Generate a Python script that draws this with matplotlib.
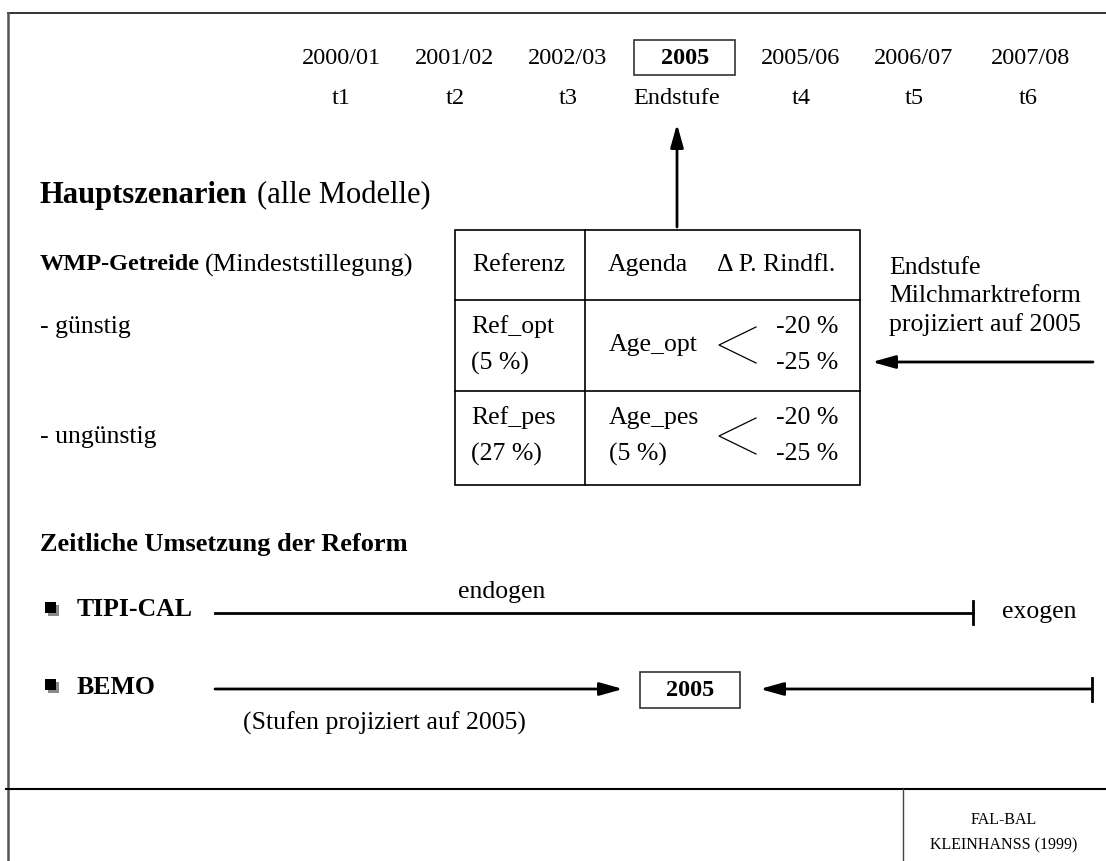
"""
Szenarien-Schema: Hauptszenarien und zeitliche Umsetzung der Reform.
"""

import matplotlib

matplotlib.use("Agg")
import matplotlib.pyplot as plt
from matplotlib.patches import Rectangle

plt.rcParams["font.family"] = ["Liberation Serif", "DejaVu Serif"]

# timeline labels
years = ["2000/01", "2001/02", "2002/03", "2005", "2005/06", "2006/07", "2007/08"]
stages = ["t1", "t2", "t3", "Endstufe", "t4", "t5", "t6"]
year_x = [341, 455, 568, 685, 801, 914, 1030]
stage_x = [341, 455, 568, 677, 801, 914, 1028]

# scenario table
table_header = ["Referenz", "Agenda", "\u0394 P. Rindfl."]
ref_rows = [["Ref_opt", "(5 %)"], ["Ref_pes", "(27 %)"]]
age_rows = [["Age_opt"], ["Age_pes", "(5 %)"]]
price_cuts = ["-20 %", "-25 %"]
scenarios = ["- günstig", "- ungünstig"]
models = ["TIPI-CAL", "BEMO"]
note = ["Endstufe", "Milchmarktreform", "projiziert auf 2005"]

W, H = 1106, 861
fig = plt.figure(figsize=(W / 100, H / 100), dpi=100)
ax = fig.add_axes([0, 0, 1, 1])
ax.set_xlim(0, W)
ax.set_ylim(H, 0)
ax.axis("off")

FS = 18.5      # body text
FT = 17.5      # timeline
dark = "#222222"
# mutation_scale is in points: 14 pt ~ 19 px long head, ~11 px wide
arrow = dict(arrowstyle="-|>,head_length=1.0,head_width=0.28", color="black",
             lw=2, mutation_scale=14, shrinkA=0, shrinkB=0)

# frame
ax.plot([8, W], [13, 13], color=dark, lw=1.3)
ax.plot([8, 8], [13, H], color="#555555", lw=1.8)
ax.plot([6, W], [789, 789], color="black", lw=1.5)
ax.plot([903, 903], [789, H], color="#444444", lw=1.0)

# timeline
for x, lab in zip(year_x, years):
    bold = lab == "2005"
    ax.text(x, 58, lab, fontsize=FT, ha="center", va="center",
            fontweight="bold" if bold else "normal")
for x, lab in zip(stage_x, stages):
    ax.text(x, 99, lab, fontsize=FT, ha="center", va="center")
ax.add_patch(Rectangle((634, 40), 101, 35, fill=False, ec="#333333", lw=1.2))

ax.annotate("", xy=(677, 124), xytext=(677, 227), arrowprops=arrow)

# main scenarios
ax.text(40, 196, "Hauptszenarien", fontsize=22, fontweight="bold",
        ha="left", va="center")
ax.text(257, 196, "(alle Modelle)", fontsize=22, ha="left", va="center")
ax.text(40, 265, "WMP-Getreide", fontsize=17.5, fontweight="bold",
        ha="left", va="center")
ax.text(205, 265, "(Mindeststillegung)", fontsize=19, ha="left", va="center")
ax.text(40, 327, scenarios[0], fontsize=FS, ha="left", va="center")
ax.text(40, 437, scenarios[1], fontsize=FS, ha="left", va="center")

# table
ax.add_patch(Rectangle((455, 230), 405, 255, fill=False, ec="black", lw=1.2))
ax.plot([585, 585], [230, 485], color="black", lw=1.2)
ax.plot([455, 860], [300, 300], color="black", lw=1.2)
ax.plot([455, 860], [391, 391], color="black", lw=1.2)

ax.text(472, 265, table_header[0], fontsize=FS, va="center")
ax.text(608, 265, table_header[1], fontsize=FS, va="center")
ax.text(717, 265, table_header[2], fontsize=FS, va="center")

row_top = [327, 418]
for r, (ref, age) in enumerate(zip(ref_rows, age_rows)):
    y0 = row_top[r]
    ax.text(471, y0, ref[0], fontsize=FS, va="center")
    ax.text(471, y0 + 36, ref[1], fontsize=FS, va="center")
    if len(age) == 1:
        ax.text(609, y0 + 18, age[0], fontsize=FS, va="center")
    else:
        ax.text(609, y0, age[0], fontsize=FS, va="center")
        ax.text(609, y0 + 36, age[1], fontsize=FS, va="center")
    ym = y0 + 18
    ax.plot([756, 719, 756], [ym - 18, ym, ym + 18], color="black", lw=0.9)
    ax.text(838, ym - 18, price_cuts[0], fontsize=FS, ha="right", va="center")
    ax.text(838, ym + 18, price_cuts[1], fontsize=FS, ha="right", va="center")

# right note
for k, line in enumerate(note):
    ax.text(889, 268 + 28.5 * k, line, fontsize=FS, ha="left", va="center")
ax.annotate("", xy=(872, 362), xytext=(1093, 362), arrowprops=arrow)

# timing of reform
ax.text(40, 545, "Zeitliche Umsetzung der Reform", fontsize=19,
        fontweight="bold", ha="left", va="center")

bullet_y = [608, 685]
for y, name in zip(bullet_y, models):
    ax.add_patch(Rectangle((48, y - 3), 11, 11, color="#8a8a8a", lw=0))
    ax.add_patch(Rectangle((45, y - 6), 11, 11, color="black", lw=0))
    ax.text(77, y + 2, name, fontsize=FS, fontweight="bold", va="center")

# TIPI-CAL line
ax.plot([215, 973], [613, 613], color="black", lw=2)
ax.plot([973, 973], [601, 624], color="black", lw=2)
ax.text(502, 592, "endogen", fontsize=FS, ha="center", va="center")
ax.text(1002, 612, "exogen", fontsize=FS, ha="left", va="center")

# BEMO line
ax.annotate("", xy=(623, 689), xytext=(215, 689), arrowprops=arrow)
ax.add_patch(Rectangle((640, 672), 100, 36, fill=False, ec="#333333", lw=1.2))
ax.text(690, 691, "2005", fontsize=FT, fontweight="bold", ha="center", va="center")
ax.annotate("", xy=(760, 689), xytext=(1092, 689), arrowprops=arrow)
ax.plot([1092, 1092], [678, 701], color="black", lw=2)
ax.text(243, 723, "(Stufen projiziert auf 2005)", fontsize=FS,
        ha="left", va="center")

# footer
ax.text(1004, 820, "FAL-BAL", fontsize=11.5, ha="center", va="center")
ax.text(1004, 845, "KLEINHANSS (1999)", fontsize=11.5, ha="center", va="center")

fig.savefig("out.png", dpi=100)
